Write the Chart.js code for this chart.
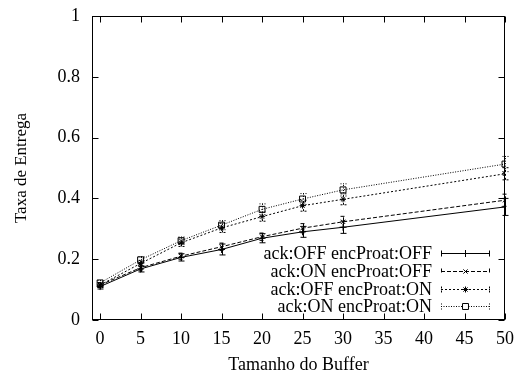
<!DOCTYPE html>
<html>
<head>
<meta charset="utf-8">
<script src="https://cdn.jsdelivr.net/npm/chart.js@4/dist/chart.umd.min.js"></script>
<style>
html,body{margin:0;padding:0;background:#fff;}
#wrap{width:516px;height:376px;}
</style>
</head>
<body>
<div id="wrap"><canvas id="c" width="516" height="376"></canvas></div>
<script>
const bufferSizes = [0, 5, 10, 15, 20, 25, 30, 50];
const labels = ["ack:OFF encProat:OFF", "ack:ON encProat:OFF", "ack:OFF encProat:ON", "ack:ON encProat:ON"];
const ackOffEncOff = [0.110, 0.168, 0.206, 0.232, 0.269, 0.290, 0.305, 0.372];
const ackOnEncOff  = [0.115, 0.172, 0.210, 0.241, 0.274, 0.302, 0.323, 0.394];
const ackOffEncOn  = [0.115, 0.186, 0.254, 0.303, 0.340, 0.376, 0.397, 0.481];
const ackOnEncOn   = [0.122, 0.198, 0.261, 0.312, 0.364, 0.398, 0.428, 0.513];
const errAckOffEncOff = [0.008, 0.010, 0.012, 0.018, 0.015, 0.018, 0.020, 0.028];
const errAckOnEncOff  = [0.008, 0.010, 0.010, 0.012, 0.012, 0.015, 0.018, 0.020];
const errAckOffEncOn  = [0.008, 0.010, 0.012, 0.015, 0.015, 0.018, 0.018, 0.020];
const errAckOnEncOn   = [0.008, 0.010, 0.012, 0.015, 0.018, 0.018, 0.020, 0.025];
const yTickLabels = ["0", "0.2", "0.4", "0.6", "0.8", "1"];
const xTitle = "Tamanho do Buffer";
const yTitle = "Taxa de Entrega";

const FONT = "'Liberation Serif', 'DejaVu Serif', serif";
const styles = [
  {dash: [], point: 'cross', radius: 3.5},
  {dash: [4, 2], point: 'crossRot', radius: 3},
  {dash: [2, 2], point: 'star', radius: 3},
  {dash: [1, 1.5], point: 'rect', radius: 4.2}
];
const seriesVals = [ackOffEncOff, ackOnEncOff, ackOffEncOn, ackOnEncOn];
const seriesErr = [errAckOffEncOff, errAckOnEncOff, errAckOffEncOn, errAckOnEncOn];

const datasets = seriesVals.map((vals, i) => ({
  label: labels[i],
  data: bufferSizes.map((x, j) => ({x: x, y: vals[j]})),
  borderColor: '#000',
  backgroundColor: 'rgba(0,0,0,0)',
  borderWidth: 1,
  borderDash: styles[i].dash,
  pointStyle: styles[i].point,
  pointRadius: styles[i].radius,
  pointBorderColor: '#000',
  pointBackgroundColor: 'rgba(0,0,0,0)',
  pointBorderWidth: 1,
  tension: 0,
  fill: false
}));

const framePlugin = {
  id: 'frame',
  afterDatasetsDraw(chart) {
    const ctx = chart.ctx;
    const xs = chart.scales.x, ys = chart.scales.y;
    const a = chart.chartArea;
    ctx.save();
    // error bars
    seriesVals.forEach((vals, i) => {
      ctx.setLineDash(styles[i].dash);
      ctx.strokeStyle = '#000';
      ctx.lineWidth = 1;
      bufferSizes.forEach((bx, j) => {
        const px = Math.round(xs.getPixelForValue(bx)) + 0.5;
        const lo = ys.getPixelForValue(vals[j] - seriesErr[i][j]);
        const hi = ys.getPixelForValue(vals[j] + seriesErr[i][j]);
        ctx.beginPath();
        ctx.moveTo(px, lo); ctx.lineTo(px, hi);
        ctx.moveTo(px - 3, lo); ctx.lineTo(px + 3, lo);
        ctx.moveTo(px - 3, hi); ctx.lineTo(px + 3, hi);
        ctx.stroke();
      });
    });
    ctx.setLineDash([]);
    // frame
    ctx.strokeStyle = '#000';
    ctx.lineWidth = 1;
    const L = Math.round(a.left) + 0.5, R = Math.round(a.right) - 0.5;
    const T = Math.round(a.top) + 0.5, B = Math.round(a.bottom) - 0.5;
    ctx.strokeRect(L, T, R - L, B - T);
    // inward ticks
    const tl = 6;
    ctx.beginPath();
    ys.ticks.forEach(t => {
      const py = Math.round(ys.getPixelForValue(t.value)) + 0.5;
      ctx.moveTo(L, py); ctx.lineTo(L + tl, py);
      ctx.moveTo(R, py); ctx.lineTo(R - tl, py);
    });
    xs.ticks.forEach(t => {
      const px = Math.round(xs.getPixelForValue(t.value)) + 0.5;
      ctx.moveTo(px, B); ctx.lineTo(px, B - tl);
      ctx.moveTo(px, T); ctx.lineTo(px, T + tl);
    });
    ctx.stroke();
    // legend
    const rows = [253, 271, 289, 306];
    const textRight = 432, s0 = 441, s1 = 490;
    ctx.font = "18px " + FONT;
    ctx.textAlign = 'right';
    ctx.textBaseline = 'middle';
    labels.forEach((lab, i) => {
      const y = rows[i] + 0.5;
      ctx.fillStyle = '#000';
      ctx.fillText(lab, textRight, rows[i] + 1);
      ctx.setLineDash(styles[i].dash);
      ctx.beginPath();
      ctx.moveTo(s0, y); ctx.lineTo(s1, y);
      ctx.moveTo(s0 + 0.5, y - 3); ctx.lineTo(s0 + 0.5, y + 3);
      ctx.moveTo(s1 - 0.5, y - 3); ctx.lineTo(s1 - 0.5, y + 3);
      ctx.stroke();
      ctx.setLineDash([]);
      ctx.fillStyle = '#fff';
      Chart.helpers.drawPoint(ctx, {
        pointStyle: styles[i].point, radius: styles[i].radius, rotation: 0, borderWidth: 1
      }, (s0 + s1) / 2, y);
    });
    ctx.restore();
  }
};

new Chart(document.getElementById('c'), {
  type: 'line',
  data: {datasets: datasets},
  options: {
    responsive: false,
    animation: false,
    devicePixelRatio: 1,
    layout: {padding: {top: 16, right: 11, bottom: 0, left: 0}},
    plugins: {legend: {display: false}, tooltip: {enabled: false}},
    scales: {
      x: {
        type: 'linear',
        min: -1, max: 50,
        grid: {display: false, drawTicks: false},
        border: {display: false},
        ticks: {
          stepSize: 5, includeBounds: false, padding: 8, color: '#000',
          maxRotation: 0, autoSkip: false,
          font: {family: FONT, size: 18}
        },
        title: {display: true, text: xTitle, color: '#000', font: {family: FONT, size: 18}, padding: {top: 0, bottom: 0}},
        afterFit(s) { s.height = 56; s.paddingLeft = 0; s.paddingRight = 0; }
      },
      y: {
        type: 'linear',
        min: 0, max: 1,
        grid: {display: false, drawTicks: false},
        border: {display: false},
        ticks: {
          stepSize: 0.2, padding: 12, color: '#000',
          font: {family: FONT, size: 18},
          callback: (v) => yTickLabels[Math.round(v / 0.2)]
        },
        title: {display: true, text: yTitle, color: '#000', font: {family: FONT, size: 17}, padding: {top: 11, bottom: 0}},
        afterFit(s) { s.width = 92; s.paddingTop = 0; s.paddingBottom = 0; }
      }
    }
  },
  plugins: [framePlugin]
});
</script>
</body>
</html>
